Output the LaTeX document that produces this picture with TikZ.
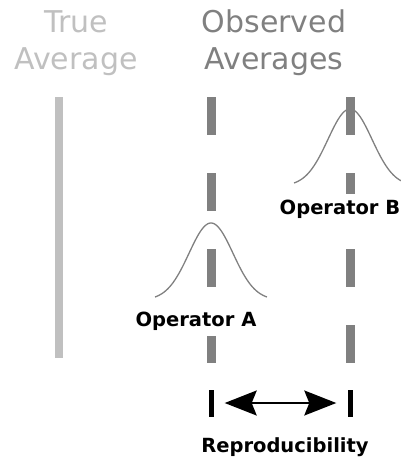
\documentclass[tikz,border=0pt]{standalone}
\usepackage{fontspec}
\setmainfont{DejaVu Sans}
\usepackage{tikz}
\usetikzlibrary{arrows.meta}
\usetikzlibrary{positioning}
\definecolor{avgdark}{HTML}{808080}
\definecolor{avglight}{HTML}{C0C0C0}
\tikzset{
	myplot/.style = {
		x=1pt, y=-1pt, >={Stealth[length=32pt,width=25pt,inset=5pt]},
	},
	heading/.style = {font=\fontsize{30}{37}\selectfont, align=center, anchor=north, inner sep=0pt},
	oplabel/.style = {font=\fontsize{19.5}{22}\selectfont\bfseries, fill=white, inner xsep=2pt, inner ysep=6pt, anchor=base},
	obsline/.style = {draw=avgdark, line width=9pt, dash pattern=on 38pt off 38pt},
	bell/.style = {draw=avgdark, line width=1.3pt},
	tickmark/.style = {fill=black, minimum width=5pt, minimum height=27pt, inner sep=0pt},
}

\begin{document}
\begin{tikzpicture}[myplot]
		\useasboundingbox (0,0) rectangle (401,464);
		\node[heading, text=avglight] (true) at (76,10) {True\\Average};
		\node[heading, text=avgdark] (obs) at (274,10) {Observed\\Averages};
		
		\coordinate (truetop) at (59,97);
		\coordinate (truebot) at (59,358);
		\coordinate (atop) at (211,97);
		\coordinate (abot) at (211,364);
		\coordinate (btop) at (350,97);
		\coordinate (bbot) at (350,364);
		
		\draw[bell] plot[domain=-56:56, samples=80] ({211+\x}, {300-77*exp(-(\x*\x)/968)});
		\draw[bell] plot[domain=-56:51, samples=80] ({350+\x}, {186-77*exp(-(\x*\x)/968)});
		
		\draw[avglight, line width=8pt] (truetop) -- (truebot);
		\draw[obsline] (atop) -- (abot);
		\draw[obsline] (btop) -- (bbot);
		
		\node[oplabel] (opa) at (196,326) {Operator A};
		\node[oplabel] (opb) at (340,214) {Operator B};
		
		\node[tickmark] (ticka) at (211,403) {};
		\node[tickmark] (tickb) at (350,403) {};
		\draw[<->, line width=2pt, shorten <=11pt, shorten >=11pt] (ticka) -- (tickb);
		\node[oplabel, fill=none] (repro) at (285,452) {Reproducibility};
	\end{tikzpicture}
\end{document}
